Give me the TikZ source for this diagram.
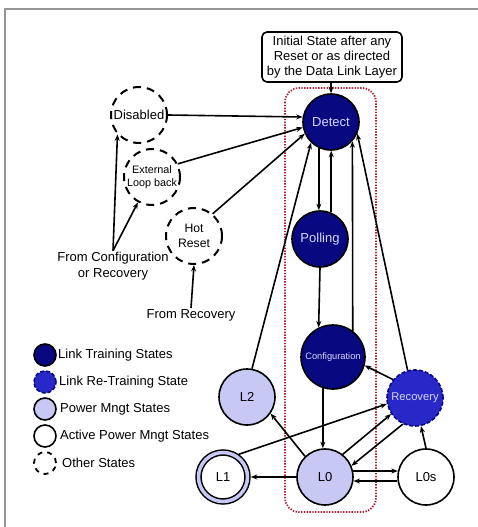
\documentclass[tikz,border=0pt]{standalone}
\usepackage{fontspec}
\setmainfont{Liberation Sans}
\usetikzlibrary{arrows.meta}
\definecolor{navy}{RGB}{8,8,128}
\definecolor{recblue}{RGB}{40,40,200}
\definecolor{lav}{RGB}{200,200,245}
\definecolor{lavtext}{RGB}{215,215,255}
\definecolor{framegray}{RGB}{150,150,150}
\definecolor{dotred}{RGB}{175,35,55}
\tikzset{
  st/.style={circle, draw=black, line width=1.6pt, minimum size=56pt, inner sep=0pt,
    font=\fontsize{13}{15}\selectfont, align=center},
  train/.style={st, fill=navy, text=lavtext},
  retrain/.style={st, fill=recblue, draw=navy, dash pattern=on 4pt off 2pt, text=lavtext},
  pm/.style={st, fill=lav},
  apm/.style={st, fill=white},
  other/.style={st, line width=2pt, dash pattern=on 8pt off 6pt},
  legc/.style={circle, draw=black, line width=1.6pt, minimum size=22pt, inner sep=0pt},
  legt/.style={anchor=west, inner sep=0pt, font=\fontsize{13}{15}\selectfont},
  txt/.style={align=center, inner sep=1pt, font=\fontsize{13}{16}\selectfont},
  arr/.style={-{Stealth[length=6.5pt,width=5pt]}, line width=1.6pt},
}
\begin{document}
\begin{tikzpicture}[x=1pt,y=-1pt]
\useasboundingbox (0,0) rectangle (478,527);
% frame
\draw[framegray, line width=1.4pt] (5,527) -- (5,9) -- (478,9);
% dotted region
\draw[dotred, line width=1.8pt, dash pattern=on 1.4pt off 1.4pt, rounded corners=14pt]
  (285,88) rectangle (376,512);
% initial box
\node[draw=black, line width=1.6pt, rounded corners=5pt, minimum width=140pt, minimum height=50pt,
  align=center, inner sep=1pt, font=\fontsize{13}{15}\selectfont] (init) at (332,57)
  {Initial State after any\\ Reset or as directed\\by the Data Link Layer};
% states
\node[train] (detect) at (331,122) {Detect};
\node[train] (polling) at (320,239) {Polling};
\node[train, minimum size=64pt, font=\fontsize{9.3}{10}\selectfont] (config) at (333,357) {Configuration};
\node[retrain, font=\fontsize{11.2}{13}\selectfont] (recovery) at (415,398) {Recovery};
\node[pm] (l2) at (247,397) {L2};
\node[pm] (l0) at (325,477) {L0};
\node[apm] (l0s) at (426,477) {L0s};
\node[st, fill=white, minimum size=49pt, double=lav, double distance=3.5pt, line width=1.5pt, outer sep=3.3pt] (l1) at (223,477) {L1};
\node[other] (disabled) at (139,115) {Disabled};
\node[other, font=\fontsize{10.8}{13}\selectfont] (ext) at (152,177) {External\\Loop back};
\node[other, font=\fontsize{12.2}{15}\selectfont] (hot) at (194,236) {Hot\\Reset};
% free texts
\node[txt] (fromcr) at (113,266) {From Configuration\\or Recovery};
\node[txt] (fromr) at (191,315) {From Recovery};
% legend
\node[legc, fill=navy] (lg1) at (45,355) {};
\node[legc, fill=recblue, draw=navy, dash pattern=on 4pt off 2pt] (lg2) at (45,382) {};
\node[legc, fill=lav] (lg3) at (45,409) {};
\node[legc, fill=white] (lg4) at (45,436) {};
\node[legc, fill=white, line width=1.8pt, dash pattern=on 5pt off 5pt] (lg5) at (45,463) {};
\node[legt] (lt1) at (58,355) {Link Training States};
\node[legt] (lt2) at (59,382) {Link Re-Training State};
\node[legt] (lt3) at (60,409) {Power Mngt States};
\node[legt] (lt4) at (60,436) {Active Power Mngt States};
\node[legt] (lt5) at (62,463) {Other States};
% connectors
\draw[arr] (init.south -| detect.north) -- (detect.north);
\draw[arr] (disabled.east) -- (detect.170);
\draw[arr] (ext.27) -- (detect.191);
\draw[arr] (hot.50) -- (detect.204);
\draw[arr] (detect.245) -- (detect.245 |- polling.north);
\draw[arr] (polling.67) -- (polling.67 |- detect.south);
\draw[arr] (polling.south) -- (config.116);
\draw[arr] (config.53.5) -- (detect.318.6);
\draw[arr] (config.252) -- (config.252 |- l0.north);
\draw[arr] (l2.80) -- (detect.226);
\draw[arr] (recovery.105) -- (detect.336);
\draw[arr] (recovery.140) -- (config.345);
\draw[arr] (l0.134) -- (l2.325);
\draw[arr] (l1.55) -- (recovery.192);
\draw[arr] (l0.52) -- (recovery.214);
\draw[arr] (recovery.245) -- (l0.23);
\draw[arr] (l0.west) -- (l1.east);
\draw[arr] (l0.12) -- (l0s.168);
\draw[arr] (l0s.188) -- (l0.352);
\draw[arr] (l0s.north) -- (recovery.282);
\draw[arr] (fromcr.north) -- (disabled.222);
\draw[arr] (fromcr.north) -- (ext.241);
\draw[arr] (fromr.north) -- (hot.south);
\end{tikzpicture}
\end{document}
